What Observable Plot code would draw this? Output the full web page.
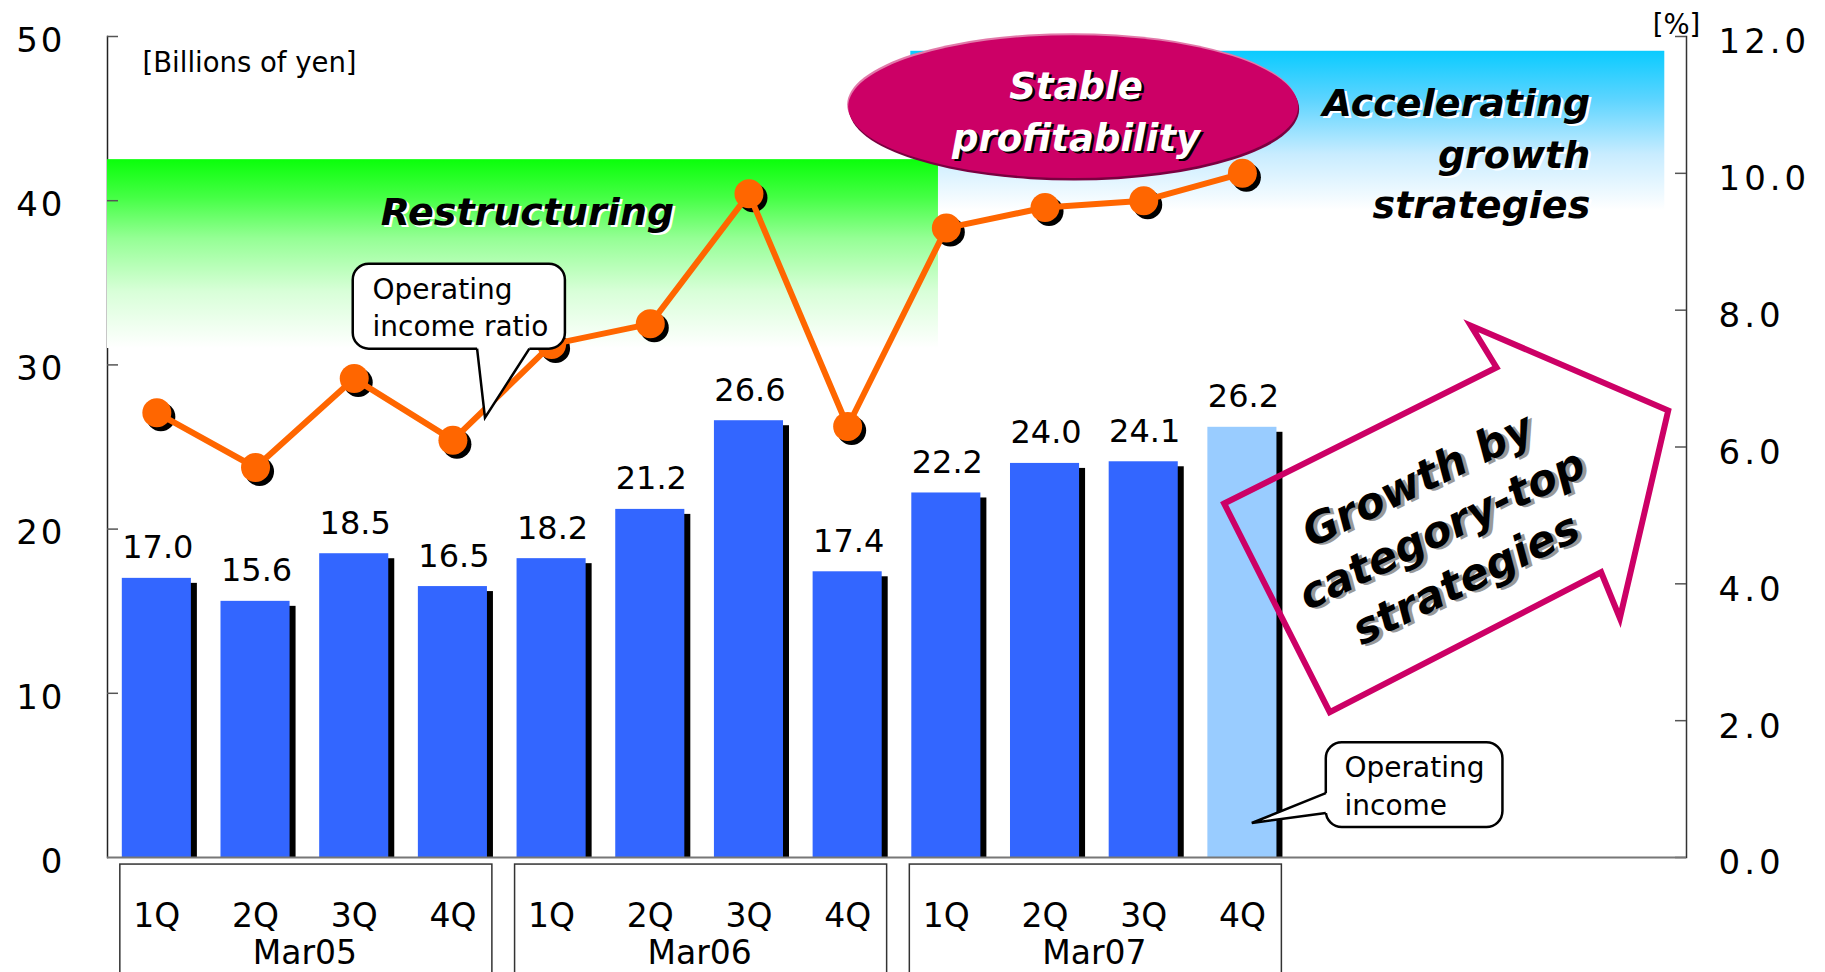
<!DOCTYPE html>
<html>
<head>
<meta charset="utf-8">
<script src="https://cdn.jsdelivr.net/npm/d3@7"></script>
<script src="https://cdn.jsdelivr.net/npm/@observablehq/plot@0.6"></script>
<style>
  html, body { margin: 0; padding: 0; background: #fff; }
  #chart svg { display: block; }
</style>
</head>
<body>
<div id="chart"></div>
<script>
// ---------------- data ----------------
const fiscalYears = ["Mar05", "Mar06", "Mar07"];
const quarterNames = ["1Q", "2Q", "3Q", "4Q"];
const operatingIncome = [17.0, 15.6, 18.5, 16.5, 18.2, 21.2, 26.6, 17.4, 22.2, 24.0, 24.1, 26.2];
const operatingIncomeRatio = [6.5, 5.7, 7.0, 6.1, 7.5, 7.8, 9.7, 6.3, 9.2, 9.5, 9.6, 10.0];
const isForecast = [false, false, false, false, false, false, false, false, false, false, false, true];
const incomeTicks = [0, 10, 20, 30, 40, 50];
const ratioTicks = [0, 2, 4, 6, 8, 10, 12];
const incomeUnit = "[Billions of yen]";
const ratioUnit = "[%]";
const restructuringLabel = "Restructuring";
const stableLabel = ["Stable", "profitability"];
const acceleratingLabel = ["Accelerating", "growth", "strategies"];
const arrowLabel = ["Growth by", "category-top", "strategies"];
const ratioCallout = ["Operating", "income ratio"];
const incomeCallout = ["Operating", "income"];

// ---------------- layout ----------------
const W = 1825, H = 972;
const M = {left: 107, right: 139, top: 36, bottom: 115};
const SLOTS = 16;                     // band slots across the frame (last 4 empty)
const frameW = W - M.left - M.right;
const step = frameW / SLOTS;
const INCOME_MAX = 50, RATIO_MAX = 12;
const toIncome = r => r * INCOME_MAX / RATIO_MAX;
const FONT = "'DejaVu Sans', sans-serif";

const rows = operatingIncome.map((v, i) => ({
  key: fiscalYears[Math.floor(i / 4)] + " " + quarterNames[i % 4],
  year: fiscalYears[Math.floor(i / 4)],
  quarter: quarterNames[i % 4],
  income: v,
  ratio: operatingIncomeRatio[i],
  forecast: isForecast[i]
}));

const plot = Plot.plot({
  width: W, height: H,
  marginLeft: M.left, marginRight: M.right, marginTop: M.top, marginBottom: M.bottom,
  style: {fontFamily: FONT, background: "#fff", color: "#000", overflow: "visible"},
  x: {type: "band", domain: rows.map(d => d.key), range: [M.left, M.left + rows.length * step],
      paddingInner: 0.30, paddingOuter: 0.15, round: false, axis: null},
  y: {domain: [0, INCOME_MAX], axis: null},
  marks: [
    Plot.frame({anchor: "left", stroke: "#222", strokeWidth: 1.5}),
    Plot.frame({anchor: "right", stroke: "#333", strokeWidth: 1.5}),
    Plot.ruleY(incomeTicks.slice(1), {insetRight: frameW - 11, stroke: "#555", strokeWidth: 1.5}),
    Plot.ruleY(ratioTicks.map(toIncome), {insetLeft: frameW - 11, stroke: "#555", strokeWidth: 1.5}),
    Plot.axisY(incomeTicks, {anchor: "left", label: null, tickSize: 0, tickPadding: 42, fontSize: 34, dy: 4.5}),
    Plot.axisY(ratioTicks.map(toIncome), {anchor: "right", label: null, tickSize: 0, tickPadding: 32, fontSize: 34, dy: 6,
      tickFormat: d => (d * RATIO_MAX / INCOME_MAX).toFixed(1)}),
    // bar shadows, bars
    Plot.barY(rows, {x: "key", y: "income", fill: "#000", dx: 6, dy: 5, insetBottom: 5, ariaLabel: "bar-shadow"}),
    Plot.barY(rows, {filter: d => !d.forecast, x: "key", y: "income", fill: "#3366FF"}),
    Plot.barY(rows, {filter: d => d.forecast, x: "key", y: "income", fill: "#99CCFF"}),
    Plot.ruleY([0], {stroke: "#777", strokeWidth: 2}),
    Plot.text(rows, {x: "key", y: "income", text: d => d.income.toFixed(1), dy: -20, dx: 1, lineAnchor: "bottom",
      fontSize: 32, ariaLabel: "bar-values"}),
    // ratio line
    Plot.dot(rows, {x: "key", y: d => toIncome(d.ratio), r: 14.5, fill: "#000", dx: 4, dy: 4}),
    Plot.line(rows, {x: "key", y: d => toIncome(d.ratio), stroke: "#FF6600", strokeWidth: 6}),
    Plot.dot(rows, {x: "key", y: d => toIncome(d.ratio), r: 14.5, fill: "#FF6600"}),
    // category axis
    Plot.text(rows, {x: "key", text: "quarter", frameAnchor: "bottom", dy: 69, lineAnchor: "bottom",
      fontSize: 33, ariaLabel: "quarter-labels"}),
    Plot.text(rows.filter(d => d.quarter === "2Q"), {x: "key", text: "year", frameAnchor: "bottom",
      dx: step / 2, dy: 106, lineAnchor: "bottom", fontSize: 33, ariaLabel: "year-labels"}),
    // units
    Plot.text([incomeUnit], {frameAnchor: "top-left", text: d => d, dx: 35, dy: 35, lineAnchor: "bottom",
      textAnchor: "start", fontSize: 27.5}),
    Plot.text([ratioUnit], {frameAnchor: "top-right", text: d => d, dx: -10, dy: -3, lineAnchor: "bottom",
      textAnchor: "middle", fontSize: 27.5})
  ]
});

document.getElementById("chart").appendChild(plot);

// ---------------- decorations (positioned in data space through Plot's scales) ----------------
const svg = d3.select(plot);
const axisGroups = svg.selectAll('g[aria-label="y-axis tick label"]').nodes();
if (axisGroups[0]) d3.select(axisGroups[0]).selectAll("text").attr("letter-spacing", "3px");
if (axisGroups[1]) d3.select(axisGroups[1]).selectAll("text").attr("letter-spacing", "4px");
svg.selectAll('g[aria-label="bar-values"] text').attr("letter-spacing", "3px");
svg.selectAll('g[aria-label="quarter-labels"] text').attr("letter-spacing", "1px");

const xs = plot.scale("x"), ys = plot.scale("y");
const slotStep = xs.step ?? (xs.range[1] - xs.range[0]) / xs.domain.length;
const X = t => xs.range[0] + t * slotStep;   // t in band-slot units
const Y = v => ys.apply(v);                  // v in income units

const defs = svg.append("defs");
function gradient(id, stops) {
  const g = defs.append("linearGradient").attr("id", id)
    .attr("x1", 0).attr("y1", 0).attr("x2", 0).attr("y2", 1);
  stops.forEach(([o, c]) => g.append("stop").attr("offset", o).attr("stop-color", c));
}
gradient("gGreen", [[0, "#0AFF0A"], [0.2, "#44FF44"], [0.42, "#95FF95"], [0.7, "#D8FFD8"], [1, "#FFFFFF"]]);
gradient("gCyan", [[0, "#0ACBFF"], [0.3, "#5BD4FF"], [0.65, "#C8ECFF"], [1, "#FFFFFF"]]);

// phase boxes (data-space extents)
const phaseGreen = {t0: 0, t1: 8.42, v0: 42.5, v1: 31.0};
const phaseCyan = {t0: 8.14, t1: 15.78, v0: 49.1, v1: 39.4};

const back = svg.insert("g", "g");
back.append("rect").attr("x", X(phaseCyan.t0)).attr("y", Y(phaseCyan.v0))
  .attr("width", X(phaseCyan.t1) - X(phaseCyan.t0)).attr("height", Y(phaseCyan.v1) - Y(phaseCyan.v0))
  .attr("fill", "url(#gCyan)");
back.append("rect").attr("x", X(phaseGreen.t0)).attr("y", Y(phaseGreen.v0))
  .attr("width", X(phaseGreen.t1) - X(phaseGreen.t0)).attr("height", Y(phaseGreen.v1) - Y(phaseGreen.v0))
  .attr("fill", "url(#gGreen)");

function label(g, x, y, text, {size = 37, fill = "#000", shadow = "#fff", anchor = "middle", off = 2.5} = {}) {
  const common = s => s.attr("x", x).attr("y", y).attr("text-anchor", anchor)
    .attr("font-family", FONT).attr("font-weight", "bold").attr("font-style", "italic")
    .attr("font-size", size).text(text);
  common(g.append("text")).attr("fill", shadow).attr("transform", `translate(${off},${off})`);
  common(g.append("text")).attr("fill", fill);
}

// Restructuring label
label(back, X(4.26), Y(38.5), restructuringLabel, {size: 38});
// Accelerating growth strategies
const accel = {t: 15.03, v: [45.13, 41.97, 38.93]};
acceleratingLabel.forEach((s, i) => label(back, X(accel.t), Y(accel.v[i]), s, {size: 38, anchor: "end"}));

// big arrow: white body sits between the bar shadows and the bars, outline on top
const arrowPts = [[11.32, 21.53], [14.08, 29.81], [13.82, 32.36], [15.82, 27.19], [15.33, 14.54], [15.14, 17.34], [12.39, 8.82]];
const arrowPoints = arrowPts.map(([t, v]) => `${X(t)},${Y(v)}`).join(" ");
const shadowG = svg.select('g[aria-label="bar-shadow"]').node();
if (shadowG) {
  const body = document.createElementNS("http://www.w3.org/2000/svg", "polygon");
  body.setAttribute("points", arrowPoints);
  body.setAttribute("fill", "#fff");
  shadowG.parentNode.insertBefore(body, shadowG.nextSibling);
}

const front = svg.append("g");

// Stable profitability ellipse
const ell = {t: 9.79, v: 45.7, rt: 2.28, rv: 4.35};
const ex = X(ell.t), ey = Y(ell.v), erx = X(ell.t + ell.rt) - ex, ery = Y(ell.v - ell.rv) - ey;
front.append("ellipse").attr("cx", ex - 1).attr("cy", ey - 2).attr("rx", erx).attr("ry", ery).attr("fill", "#E27AAA");
front.append("ellipse").attr("cx", ex + 1).attr("cy", ey + 2.5).attr("rx", erx).attr("ry", ery).attr("fill", "#7A0040");
front.append("ellipse").attr("cx", ex).attr("cy", ey).attr("rx", erx).attr("ry", ery).attr("fill", "#CC0066");
const stableV = [46.17, 43.0];
stableLabel.forEach((s, i) => label(front, X(ell.t + 0.03), Y(stableV[i]), s, {size: 37, fill: "#fff", shadow: "#000"}));

// arrow outline and its text
front.append("polygon").attr("points", arrowPoints)
  .attr("fill", "none").attr("stroke", "#CC0066").attr("stroke-width", 6).attr("stroke-linejoin", "miter");
const arrowText = front.append("g")
  .attr("transform", `translate(${X(13.59)},${Y(19.16)}) rotate(-26)`);
arrowLabel.forEach((s, i) => label(arrowText, 0, (i - 1) * 55, s, {size: 43, shadow: "#999", off: 3}));

// callouts
function callout(g, box, base1, base2, tip, lines, textPos) {
  const x0 = X(box.t0), x1 = X(box.t1), y0 = Y(box.v0), y1 = Y(box.v1);
  g.append("rect").attr("x", x0).attr("y", y0).attr("width", x1 - x0).attr("height", y1 - y0)
    .attr("rx", 16).attr("ry", 16).attr("fill", "#fff").attr("stroke", "#000").attr("stroke-width", 2.5);
  const b1 = [X(base1[0]), Y(base1[1])], b2 = [X(base2[0]), Y(base2[1])], tp = [X(tip[0]), Y(tip[1])];
  const cx = (x0 + x1) / 2, cy = (y0 + y1) / 2;
  const inward = p => [p[0] + Math.sign(cx - p[0]) * (Math.abs(cx - p[0]) > (x1 - x0) / 2 - 1 ? 4 : 0),
                       p[1] + Math.sign(cy - p[1]) * (Math.abs(cy - p[1]) > (y1 - y0) / 2 - 1 ? 4 : 0)];
  const i1 = inward(b1), i2 = inward(b2);
  g.append("polygon").attr("points", [i1, b1, tp, b2, i2].map(p => p.join(",")).join(" ")).attr("fill", "#fff");
  g.append("polyline").attr("points", [b1, tp, b2].map(p => p.join(",")).join(" "))
    .attr("fill", "none").attr("stroke", "#000").attr("stroke-width", 2.5).attr("stroke-linejoin", "miter");
  lines.forEach((s, i) => g.append("text").attr("x", X(textPos.t)).attr("y", Y(textPos.v[i]))
    .attr("text-anchor", "start").attr("font-family", FONT).attr("font-size", 28).attr("fill", "#000").text(s));
}
callout(front, {t0: 2.49, t1: 4.64, v0: 36.13, v1: 30.96}, [3.75, 30.96], [4.28, 30.96], [3.83, 26.76],
  ratioCallout, {t: 2.69, v: [34.0, 31.75]});
callout(front, {t0: 12.35, t1: 14.14, v0: 6.99, v1: 1.82}, [12.35, 3.89], [12.35, 2.68], [11.60, 2.07],
  incomeCallout, {t: 12.54, v: [4.87, 2.55]});

// fiscal-year boxes under the category axis
fiscalYears.forEach((y, k) => {
  const x0 = X(4 * k + 0.13), x1 = X(4 * k + 4 - 0.1);
  front.append("rect").attr("x", x0).attr("y", Y(-0.43)).attr("width", x1 - x0).attr("height", Y(-8) - Y(-0.43))
    .attr("fill", "none").attr("stroke", "#333").attr("stroke-width", 1.5);
});
</script>
</body>
</html>
